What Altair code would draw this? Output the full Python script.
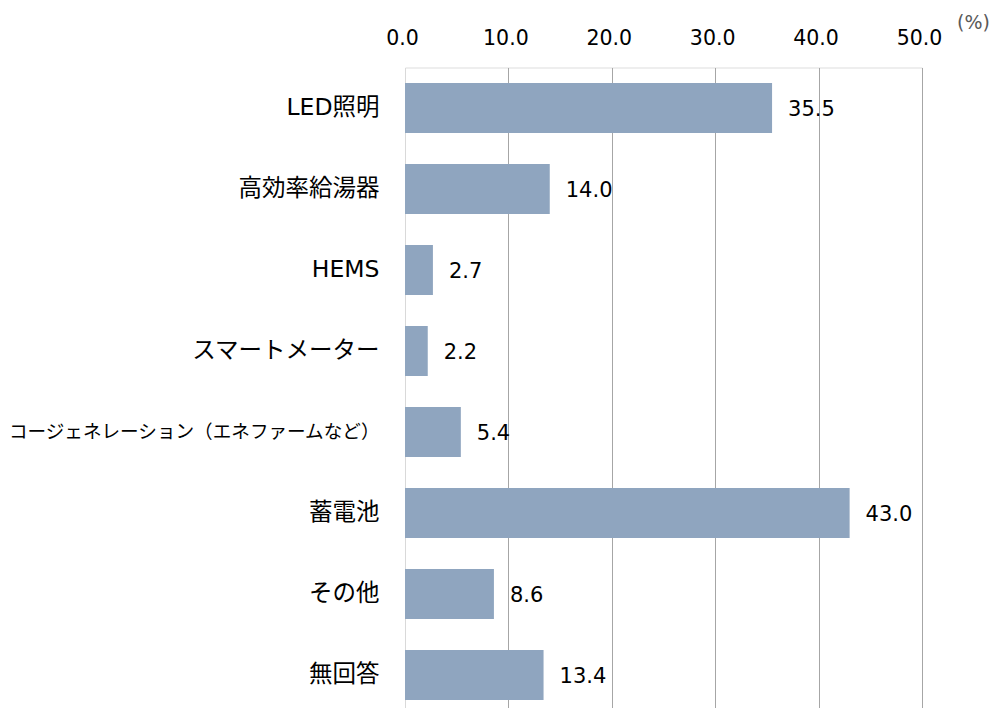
import altair as alt
import pandas as pd

categories = ["LED照明", "高効率給湯器", "HEMS", "スマートメーター",
              "コージェネレーション（エネファームなど）", "蓄電池", "その他", "無回答"]
values = [35.5, 14.0, 2.7, 2.2, 5.4, 43.0, 8.6, 13.4]
x_ticks = [0, 10, 20, 30, 40, 50]

df = pd.DataFrame({"item": categories, "value": values})
LONG = categories[4]

num_font = "DejaVu Sans"
jp_font = "DejaVu Sans, Noto Sans CJK JP"

y_enc = alt.Y(
    "item:N",
    sort=categories,
    scale=alt.Scale(range=[0, 648], paddingInner=0.38, paddingOuter=0.19),
    axis=alt.Axis(
        title=None,
        ticks=False,
        domain=False,
        grid=False,
        labelPadding=26,
        labelFont=jp_font,
        labelFontSize={"condition": {"test": f"datum.value == '{LONG}'", "value": 18.6}, "value": 23.5},
        labelColor="#000000",
        labelLimit=500,
    ),
)

x_enc = alt.X(
    "value:Q",
    scale=alt.Scale(domain=[0, 50], nice=False),
    axis=alt.Axis(
        orient="top",
        values=x_ticks,
        format=".1f",
        ticks=False,
        domain=False,
        grid=True,
        gridColor={"condition": {"test": "datum.value == 0", "value": "#d9d9d9"}, "value": "#a6a6a6"},
        gridWidth=1,
        labelFlush=False,
        labelPadding=19,
        labelFont=num_font,
        labelFontSize=20.5,
        labelColor="#000000",
        labelOffset=-3,
        title="(%)",
        titleFont=num_font,
        titleFontSize=19,
        titleFontWeight="normal",
        titleColor="#595959",
        titleX=568,
        titleY=-45,
        titleAlign="center",
        titleBaseline="middle",
    ),
)

bars = alt.Chart(df).mark_bar(color="#8fa5bf").encode(x=x_enc, y=y_enc)

labels = alt.Chart(df).mark_text(
    align="left", baseline="middle", dx=16, dy=2,
    font=num_font, fontSize=21, color="#000000"
).encode(
    x="value:Q",
    y=alt.Y("item:N", sort=categories),
    text=alt.Text("value:Q", format=".1f"),
)

chart = (bars + labels).properties(
    width=517,
    height=640.5,
    autosize=alt.AutoSizeParams(type="none"),
    padding={"left": 405, "top": 67.5, "right": 77, "bottom": 0},
).configure_view(stroke=None).configure(background="white")

chart.save("out.html", embed_options={"renderer": "svg", "actions": False})
